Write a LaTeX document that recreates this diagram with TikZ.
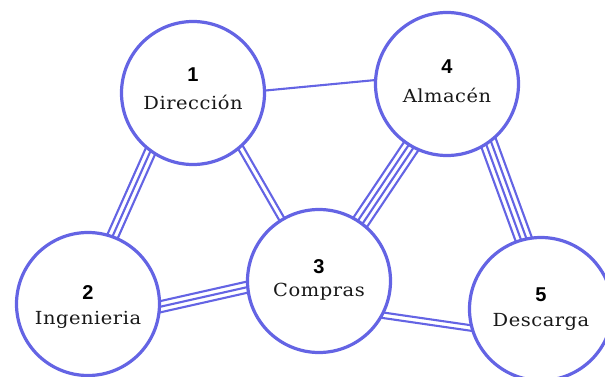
\documentclass[tikz,border=0pt]{standalone}
\usepackage{fontspec}
\usetikzlibrary{calc,backgrounds}
\newfontfamily\labfont[FakeStretch=1.08,LetterSpace=3]{DejaVu Serif}
\newfontfamily\numfont{Liberation Sans}
\definecolor{cblue}{RGB}{100,100,228}
\definecolor{txt}{RGB}{25,25,25}
\tikzset{
  station/.style={circle,draw=cblue,line width=3.2pt,fill=white,minimum size=143pt,inner sep=0pt},
  link/.style={draw=cblue,line width=2.1pt,shorten <=-12pt,shorten >=-12pt},
  numtxt/.style={inner sep=0pt,font=\numfont\bfseries\fontsize{20}{22}\selectfont,text=black},
  labtxt/.style={inner sep=0pt,font=\labfont\fontsize{18}{20}\selectfont,text=txt},
}
% #1,#2: end points on the circles; #3: offsets of the parallel lines
\newcommand{\mlink}[3]{%
  \foreach \o in {#3}{%
    \draw[link] ($(#1)!\o pt!90:(#2)$) -- ($(#2)!\o pt!-90:(#1)$);
  }%
}
\begin{document}
\begin{tikzpicture}[x=1pt,y=-1pt]
\useasboundingbox (0,0) rectangle (605,376);
\node[station] (c1) at (193,93) {};
\node[station] (c4) at (447,84) {};
\node[station] (c2) at (88,304) {};
\node[station] (c3) at (319,281) {};
\node[station] (c5) at (541,309) {};
\begin{pgfonlayer}{background}
  \mlink{c1.2}{c4.177}{0}
  \mlink{c1.234}{c2.70}{-5.5,0,5.5}
  \mlink{c1.-49}{c3.121}{-2.75,2.75}
  \mlink{c2.-2}{c3.185}{-5.5,0,5.5}
  \mlink{c3.55}{c4.240}{-8.25,-2.75,2.75,8.25}
  \mlink{c4.-55}{c5.104}{-8.25,-2.75,2.75,8.25}
  \mlink{c3.-28}{c5.195}{-2.75,2.75}
\end{pgfonlayer}
\node[numtxt] (n1) at ($(c1)+(0,-18)$) {1};
\node[labtxt] (l1) at ($(c1)+(0,9)$) {Dirección};
\node[numtxt] (n4) at ($(c4)+(0,-17)$) {4};
\node[labtxt] (l4) at ($(c4)+(0,11)$) {Almacén};
\node[numtxt] (n2) at ($(c2)+(0,-11)$) {2};
\node[labtxt] (l2) at ($(c2)+(0,16)$) {Ingenieria};
\node[numtxt] (n3) at ($(c3)+(0,-14)$) {3};
\node[labtxt] (l3) at ($(c3)+(0,11)$) {Compras};
\node[numtxt] (n5) at ($(c5)+(0,-14)$) {5};
\node[labtxt] (l5) at ($(c5)+(0,13)$) {Descarga};
\end{tikzpicture}
\end{document}
